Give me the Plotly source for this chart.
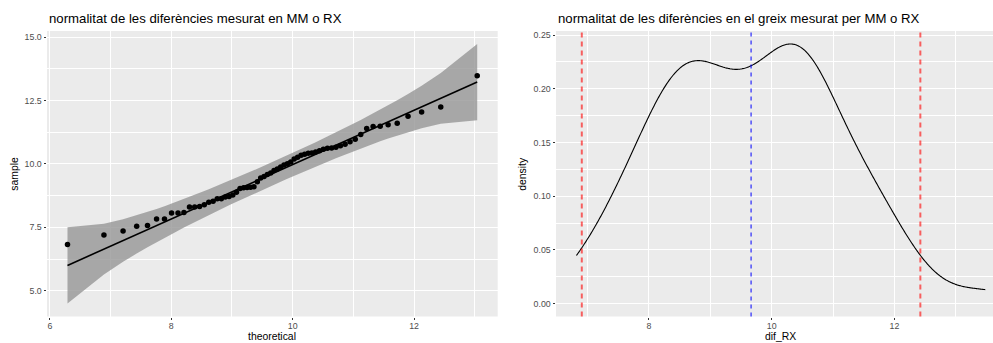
import numpy as np
import plotly.graph_objects as go
from statistics import NormalDist

# ---------------- data ----------------
dif_RX = [6.82, 7.20, 7.36, 7.54, 7.57, 7.83, 7.83, 8.07, 8.07, 8.09,
          8.30, 8.30, 8.32, 8.39, 8.49, 8.53, 8.63, 8.63, 8.70, 8.72,
          8.78, 8.88, 9.03, 9.06, 9.07, 9.08, 9.10, 9.30, 9.45, 9.51,
          9.58, 9.64, 9.74, 9.80, 9.88, 9.96, 10.01, 10.08, 10.20, 10.26,
          10.34, 10.38, 10.42, 10.43, 10.47, 10.52, 10.58, 10.62, 10.63, 10.66,
          10.72, 10.78, 10.88, 10.97, 11.16, 11.40, 11.48, 11.49, 11.55, 11.61,
          11.88, 12.05, 12.25, 13.48]

left_x_ticks = [6, 8, 10, 12]
left_x_labels = ["6", "8", "10", "12"]
left_y_ticks = [5.0, 7.5, 10.0, 12.5, 15.0]
left_y_labels = ["5.0", "7.5", "10.0", "12.5", "15.0"]
right_x_ticks = [8, 10, 12]
right_x_labels = ["8", "10", "12"]
right_y_ticks = [0.00, 0.05, 0.10, 0.15, 0.20, 0.25]
right_y_labels = ["0.00", "0.05", "0.10", "0.15", "0.20", "0.25"]

title_left = "normalitat de les diferències mesurat en MM o RX"
title_right = "normalitat de les diferències en el greix mesurat per MM o RX"
xlab_left, ylab_left = "theoretical", "sample"
xlab_right, ylab_right = "dif_RX", "density"

# ---------------- statistics (as qqplotr / geom_density do) ----------------
smp = np.sort(np.array(dif_RX, dtype=float))
n = len(smp)
mu = smp.mean()
nd = NormalDist(mu, smp.std())          # MLE parameters
p = (np.arange(1, n + 1) - 0.5) / n     # ppoints
theo = np.array([nd.inv_cdf(v) for v in p])
q1, q3 = np.quantile(smp, [0.25, 0.75])
t1, t3 = nd.inv_cdf(0.25), nd.inv_cdf(0.75)
slope = (q3 - q1) / (t3 - t1)
intercept = q1 - slope * t1
fit = intercept + slope * theo
dens_at = np.array([nd.pdf(v) for v in theo])
se = slope / dens_at * np.sqrt(p * (1 - p) / n)
zz = NormalDist().inv_cdf(0.975)
upper = fit + zz * se
lower = fit - zz * se

sd1 = smp.std(ddof=1)
bw = 0.9 * min(sd1, (q3 - q1) / 1.34) * n ** (-0.2)
gx = np.linspace(smp.min(), smp.max(), 512)
gy = np.exp(-0.5 * ((gx[:, None] - smp[None, :]) / bw) ** 2).sum(1) / (n * bw * np.sqrt(2 * np.pi))
vl_mean = mu
vl_lo, vl_hi = mu - 1.96 * sd1, mu + 1.96 * sd1

# ---------------- geometry ----------------
W, H = 993, 343
LP = (47.0, 497.7)
RP = (556.0, 1005.7)   # right panel continues past the image edge
PY = (31.0, 316.5)


def px_x(v):
    return v / W


def px_y(v):
    return 1 - v / H


def expand(lo, hi, f=0.05):
    s = hi - lo
    return [lo - f * s, hi + f * s]


lx_range = expand(theo.min(), theo.max())
ly_range = expand(min(lower.min(), smp.min()), max(upper.max(), smp.max()))
rx_full = expand(smp.min(), smp.max())
frac = (W - RP[0]) / (RP[1] - RP[0])
rx_range = [rx_full[0], rx_full[0] + (rx_full[1] - rx_full[0]) * frac]
ry_range = expand(0, gy.max())

fig = go.Figure()

# band
fig.add_trace(go.Scatter(x=np.concatenate([theo, theo[::-1]]),
                         y=np.concatenate([upper, lower[::-1]]),
                         fill="toself", fillcolor="rgba(150,150,150,0.8)",
                         line=dict(width=0), mode="lines", hoverinfo="skip",
                         xaxis="x", yaxis="y"))
# line
fig.add_trace(go.Scatter(x=theo, y=fit, mode="lines",
                         line=dict(color="black", width=1.6), xaxis="x", yaxis="y"))
# points
fig.add_trace(go.Scatter(x=theo, y=smp, mode="markers",
                         marker=dict(color="black", size=5.5, line=dict(width=0)),
                         xaxis="x", yaxis="y"))
# density
fig.add_trace(go.Scatter(x=gx, y=gy, mode="lines",
                         line=dict(color="black", width=1.1, simplify=False),
                         xaxis="x2", yaxis="y2"))

shapes = []
for xv, col, w, dash in [(vl_lo, "rgba(255,0,0,0.6)", 2, "5px,4px"),
                         (vl_hi, "rgba(255,0,0,0.6)", 2, "5px,4px"),
                         (vl_mean, "#0000FF", 1, "4px,4px")]:
    shapes.append(dict(type="line", xref="x2", yref="y2 domain", x0=xv, x1=xv,
                       y0=0, y1=1, line=dict(color=col, width=w, dash=dash)))

tickfont = dict(size=8.8, color="#4D4D4D", family="Liberation Sans, Arial, sans-serif")


def axis(domain, rng, tickvals, ticktext, minor_dtick, anchor, standoff=0):
    return dict(domain=domain, range=rng, tickvals=tickvals, ticktext=ticktext,
                showgrid=True, gridcolor="white", gridwidth=1.4,
                minor=dict(dtick=minor_dtick, tick0=0, showgrid=True,
                           gridcolor="white", gridwidth=0.7, ticks=""),
                ticks="outside", ticklen=2.5, tickwidth=1.05, tickcolor="#333333",
                tickfont=tickfont, zeroline=False, showline=False,
                ticklabelstandoff=standoff,
                anchor=anchor, fixedrange=True)


ydom = [px_y(PY[1]), px_y(PY[0])]
layout = dict(
    width=W, height=H, margin=dict(l=0, r=0, t=0, b=0),
    paper_bgcolor="white", plot_bgcolor="#EBEBEB", showlegend=False,
    font=dict(family="Liberation Sans, Arial, sans-serif", color="black"),
    xaxis=axis([px_x(LP[0]), px_x(LP[1])], lx_range, left_x_ticks, left_x_labels, 1, "y", -2),
    yaxis=axis(ydom, ly_range, left_y_ticks, left_y_labels, 1.25, "x"),
    xaxis2=axis([px_x(RP[0]), 1.0], rx_range, right_x_ticks, right_x_labels, 1, "y2", -2),
    yaxis2=axis(ydom, ry_range, right_y_ticks, right_y_labels, 0.025, "x2"),
    shapes=shapes,
)
fig.update_layout(**layout)

ann = []
tf = dict(size=13.2, color="black")
af = dict(size=10.4, color="black")
ann.append(dict(text=title_left, x=px_x(LP[0]), y=px_y(18), xref="paper", yref="paper",
                xanchor="left", yanchor="middle", showarrow=False, font=tf))
ann.append(dict(text=title_right, x=px_x(RP[0]), y=px_y(18), xref="paper", yref="paper",
                xanchor="left", yanchor="middle", showarrow=False, font=tf))
ann.append(dict(text=xlab_left, x=px_x((LP[0] + LP[1]) / 2), y=px_y(343), xref="paper", yref="paper",
                xanchor="center", yanchor="bottom", showarrow=False, font=af, borderpad=0))
ann.append(dict(text=xlab_right, x=px_x((RP[0] + RP[1]) / 2), y=px_y(343), xref="paper", yref="paper",
                xanchor="center", yanchor="bottom", showarrow=False, font=af, borderpad=0))
ann.append(dict(text=ylab_left, x=px_x(15), y=px_y((PY[0] + PY[1]) / 2), xref="paper", yref="paper",
                xanchor="center", yanchor="middle", showarrow=False, font=af, textangle=-90))
ann.append(dict(text=ylab_right, x=px_x(523), y=px_y((PY[0] + PY[1]) / 2), xref="paper", yref="paper",
                xanchor="center", yanchor="middle", showarrow=False, font=af, textangle=-90))
fig.update_layout(annotations=ann)

fig.write_html("out.html")
